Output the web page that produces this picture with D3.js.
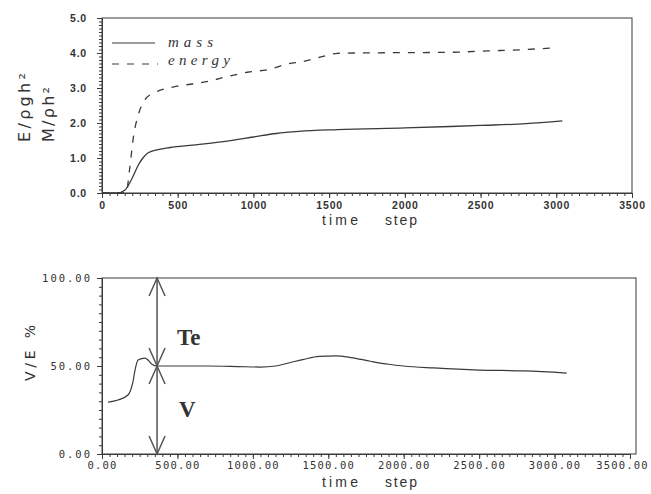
<!DOCTYPE html>
<html>
<head>
<meta charset="utf-8">
<script src="https://cdn.jsdelivr.net/npm/d3@7"></script>
<style>
  body { margin: 0; background: #fff; }
  svg { display: block; }
  .tick line, .domain { stroke: #3a3a3a; }
</style>
</head>
<body>
<svg id="chart" width="651" height="494"></svg>
<script>
// top panel: mass and energy against time step
var massSteps   = [0, 100, 150, 200, 240, 270, 305, 370, 450, 600, 800, 1000, 1150, 1300, 1555, 2000, 2300, 2500, 2800, 3040]
var massValues  = [0, 0, 0.08, 0.43, 0.8, 1.0, 1.15, 1.24, 1.3, 1.37, 1.47, 1.6, 1.7, 1.76, 1.81, 1.86, 1.9, 1.93, 1.98, 2.06]
var energySteps  = [0, 160, 180, 210, 240, 284, 350, 460, 570, 700, 830, 960, 1100, 1220, 1330, 1440, 1555, 1660, 2000, 2300, 2550, 2800, 2990]
var energyValues = [0, 0, 0.6, 1.67, 2.24, 2.67, 2.87, 3.02, 3.1, 3.19, 3.33, 3.45, 3.53, 3.68, 3.76, 3.88, 3.99, 4.0, 4.01, 4.02, 4.06, 4.1, 4.15]
var topXTicks = [0, 500, 1000, 1500, 2000, 2500, 3000, 3500]
var topYTicks = [0, 1, 2, 3, 4, 5]

// bottom panel: V/E ratio in percent
var ratioSteps  = [40, 106, 172, 205, 219, 239, 285, 305, 331, 365, 500, 700, 900, 1050, 1150, 1250, 1330, 1440, 1550, 1650, 1780, 1900, 2000, 2200, 2500, 2800, 3080]
var ratioValues = [29.5, 30.7, 33.5, 41, 47.7, 53.4, 54.5, 53.4, 51, 50, 50, 50, 49.7, 49.4, 50, 52, 53.6, 55.5, 55.7, 54.8, 52.7, 51, 50, 48.9, 47.7, 47.2, 46]
var bottomXTicks = [0, 500, 1000, 1500, 2000, 2500, 3000, 3500]
var bottomYTicks = [0, 50, 100]
var arrowStep = 365
var arrowLevels = [0, 50, 100]

var ink = "#3a3a3a"
var svg = d3.select("#chart")

function styleAxis(g, font, size, spacing, weight) {
  g.selectAll(".tick text")
    .attr("fill", "#333")
    .style("font-family", font)
    .style("font-size", size + "px")
    .style("font-weight", weight)
    .style("letter-spacing", spacing + "px")
}

// ---------- top panel ----------
var x1 = d3.scaleLinear().domain([0, 3500]).range([102, 632])
var y1 = d3.scaleLinear().domain([0, 5]).range([193, 18])

svg.append("rect")
  .attr("x", x1(0)).attr("y", y1(5))
  .attr("width", x1(3500) - x1(0)).attr("height", y1(0) - y1(5))
  .attr("fill", "none").attr("stroke", ink)

svg.append("g").attr("transform", "translate(0," + y1(0) + ")")
  .call(d3.axisBottom(x1).tickValues(d3.range(0, 3501, 50)).tickSize(3).tickSizeOuter(0).tickFormat(""))
var ax1 = svg.append("g").attr("transform", "translate(0," + y1(0) + ")")
  .call(d3.axisBottom(x1).tickValues(topXTicks).tickSize(5).tickSizeOuter(0).tickPadding(4).tickFormat(d3.format("d")))
styleAxis(ax1, "Liberation Sans, sans-serif", 10.5, 0.8, "bold")

svg.append("g").attr("transform", "translate(" + x1(0) + ",0)")
  .call(d3.axisLeft(y1).tickValues(d3.range(0, 51).map(function(d) { return d / 10 })).tickSize(3).tickSizeOuter(0).tickFormat(""))
var ay1 = svg.append("g").attr("transform", "translate(" + x1(0) + ",0)")
  .call(d3.axisLeft(y1).tickValues(topYTicks).tickSize(5).tickSizeOuter(0).tickPadding(10).tickFormat(d3.format(".1f")))
styleAxis(ay1, "Liberation Sans, sans-serif", 10.5, 0.8, "bold")

var line1 = d3.line().curve(d3.curveMonotoneX)
  .x(function(d) { return x1(d[0]) })
  .y(function(d) { return y1(d[1]) })

svg.append("path")
  .attr("d", line1(d3.zip(massSteps, massValues)))
  .attr("fill", "none").attr("stroke", ink).attr("stroke-width", 1.3)
svg.append("path")
  .attr("d", line1(d3.zip(energySteps, energyValues)))
  .attr("fill", "none").attr("stroke", ink).attr("stroke-width", 1.3)
  .attr("stroke-dasharray", "7,8")

// legend
svg.append("line").attr("x1", 112).attr("x2", 155).attr("y1", 43).attr("y2", 43)
  .attr("stroke", ink).attr("stroke-width", 1.2)
svg.append("line").attr("x1", 112).attr("x2", 158).attr("y1", 64).attr("y2", 64)
  .attr("stroke", ink).attr("stroke-width", 1.2).attr("stroke-dasharray", "7,8")
svg.append("text").attr("x", 168).attr("y", 47).text("mass")
  .attr("textLength", 45).attr("lengthAdjust", "spacing")
  .style("font-family", "Liberation Serif, serif").style("font-style", "italic")
  .style("font-size", "15px").attr("fill", "#333")
svg.append("text").attr("x", 168).attr("y", 65).text("energy")
  .attr("textLength", 62).attr("lengthAdjust", "spacing")
  .style("font-family", "Liberation Serif, serif").style("font-style", "italic")
  .style("font-size", "15px").attr("fill", "#333")

// y labels, rotated
svg.append("text").attr("transform", "translate(30,142) rotate(-90)")
  .text("E/ρgh²").attr("textLength", 69).attr("lengthAdjust", "spacing")
  .style("font-family", "DejaVu Sans, sans-serif").style("font-size", "16px").attr("fill", "#333")
svg.append("text").attr("transform", "translate(54,142) rotate(-90)")
  .text("M/ρh²").attr("textLength", 55).attr("lengthAdjust", "spacing")
  .style("font-family", "DejaVu Sans, sans-serif").style("font-size", "16px").attr("fill", "#333")

// x label
function timeStep(base) {
  svg.append("text").attr("x", 322).attr("y", base).text("time")
    .attr("textLength", 36).attr("lengthAdjust", "spacing")
    .style("font-family", "Liberation Sans, sans-serif").style("font-size", "14px").attr("fill", "#333")
  svg.append("text").attr("x", 385).attr("y", base).text("step")
    .attr("textLength", 32).attr("lengthAdjust", "spacing")
    .style("font-family", "Liberation Sans, sans-serif").style("font-size", "14px").attr("fill", "#333")
}
timeStep(225)

// ---------- bottom panel ----------
var x2 = d3.scaleLinear().domain([0, 3500]).range([102, 630])
var y2 = d3.scaleLinear().domain([0, 100]).range([454, 278])

svg.append("rect")
  .attr("x", x2(0)).attr("y", y2(100))
  .attr("width", 636 - x2(0)).attr("height", y2(0) - y2(100))
  .attr("fill", "none").attr("stroke", ink)

svg.append("g").attr("transform", "translate(0," + y2(0) + ")")
  .call(d3.axisBottom(x2).tickValues(d3.range(0, 3501, 50)).tickSize(3).tickSizeOuter(0).tickFormat(""))
var ax2 = svg.append("g").attr("transform", "translate(0," + y2(0) + ")")
  .call(d3.axisBottom(x2).tickValues(bottomXTicks).tickSize(5).tickSizeOuter(0).tickPadding(3).tickFormat(d3.format(".2f")))
styleAxis(ax2, "DejaVu Sans Mono, monospace", 10.5, 1.2, "normal")
// keep the last label inside the page
ax2.selectAll(".tick text").filter(function(d) { return d === 3500 }).attr("dx", -8)

svg.append("g").attr("transform", "translate(" + x2(0) + ",0)")
  .call(d3.axisLeft(y2).tickValues(d3.range(0, 101, 5)).tickSize(3).tickSizeOuter(0).tickFormat(""))
var ay2 = svg.append("g").attr("transform", "translate(" + x2(0) + ",0)")
  .call(d3.axisLeft(y2).tickValues(bottomYTicks).tickSize(5).tickSizeOuter(0).tickPadding(5).tickFormat(d3.format(".2f")))
styleAxis(ay2, "DejaVu Sans Mono, monospace", 10.5, 2, "normal")

var line2 = d3.line().curve(d3.curveMonotoneX)
  .x(function(d) { return x2(d[0]) })
  .y(function(d) { return y2(d[1]) })
svg.append("path")
  .attr("d", line2(d3.zip(ratioSteps, ratioValues)))
  .attr("fill", "none").attr("stroke", ink).attr("stroke-width", 1.2)

// double arrow marking V and Te
var ax = x2(arrowStep)
svg.append("line").attr("x1", ax).attr("x2", ax)
  .attr("y1", y2(arrowLevels[0])).attr("y2", y2(arrowLevels[2]))
  .attr("stroke", "#555").attr("stroke-width", 1.5)
function head(level, dir) {
  var ty = y2(level)
  svg.append("path")
    .attr("d", "M" + (ax - 8) + "," + (ty + dir * 18) + "L" + ax + "," + ty + "L" + (ax + 8) + "," + (ty + dir * 18))
    .attr("fill", "none").attr("stroke", "#555").attr("stroke-width", 1.5)
}
head(arrowLevels[2], 1)
head(arrowLevels[1], -1)
head(arrowLevels[1], 1)
head(arrowLevels[0], -1)

svg.append("text").attr("x", 177).attr("y", 345).text("Te")
  .style("font-family", "Liberation Serif, serif").style("font-weight", "bold")
  .style("font-size", "23px").attr("fill", "#333")
svg.append("text").attr("x", 179).attr("y", 417).text("V")
  .style("font-family", "Liberation Serif, serif").style("font-weight", "bold")
  .style("font-size", "23px").attr("fill", "#333")

svg.append("text").attr("transform", "translate(35,381) rotate(-90)")
  .text("V/E %").attr("textLength", 56).attr("lengthAdjust", "spacing")
  .style("font-family", "DejaVu Sans, sans-serif").style("font-size", "14px").attr("fill", "#333")

timeStep(487)
</script>
</body>
</html>
